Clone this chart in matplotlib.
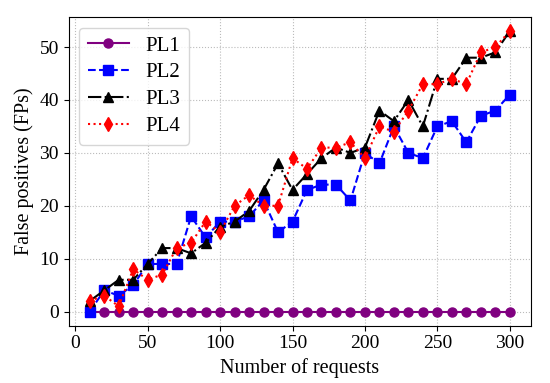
import matplotlib
matplotlib.use('Agg')
import matplotlib.pyplot as plt

plt.rcParams['font.family'] = ['Liberation Serif', 'DejaVu Serif']

requests = list(range(10, 310, 10))
pl1 = [0] * 30
pl2 = [0, 4, 3, 5, 9, 9, 9, 18, 14, 17, 17, 18, 21, 15, 17,
       23, 24, 24, 21, 30, 28, 35, 30, 29, 35, 36, 32, 37, 38, 41]
pl3 = [2, 4, 6, 6, 9, 12, 12, 11, 13, 16, 17, 19, 23, 28, 23,
       26, 29, 31, 30, 31, 38, 36, 40, 35, 44, 44, 48, 48, 49, 53]
pl4 = [2, 3, 1, 8, 6, 7, 12, 13, 17, 15, 20, 22, 20, 20, 29,
       27, 31, 31, 32, 29, 35, 34, 38, 43, 43, 44, 43, 49, 50, 53]

fig, ax = plt.subplots(figsize=(5.5, 3.83), dpi=100)
ax.plot(requests, pl1, '-o', color='purple', markersize=6.5, label='PL1')
ax.plot(requests, pl2, '--s', color='blue', markersize=6.5, label='PL2')
ax.plot(requests, pl3, '-.^', color='black', markersize=6.5, label='PL3')
ax.plot(requests, pl4, ':d', color='red', markersize=7.5, label='PL4')

ax.grid(True, linestyle=':', color='#bbbbbb')
ax.set_xlabel('Number of requests', fontsize=14.5)
ax.set_ylabel('False positives (FPs)', fontsize=14.5)
ax.tick_params(labelsize=14)
ax.legend(loc='upper left', fontsize=15, labelspacing=0.35)

plt.subplots_adjust(left=0.125, right=0.965, top=0.955, bottom=0.15)
plt.savefig('out.png')
